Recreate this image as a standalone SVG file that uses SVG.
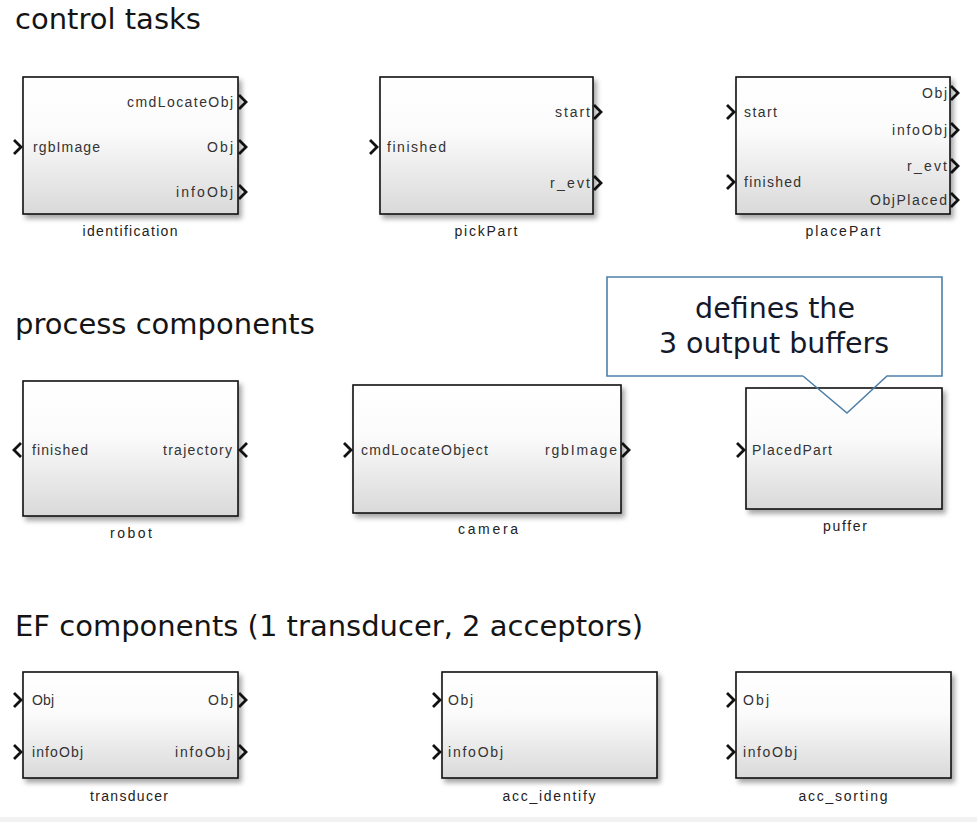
<svg xmlns="http://www.w3.org/2000/svg" xmlns:xlink="http://www.w3.org/1999/xlink" width="977" height="822" viewBox="0 0 977 822">
<style>
.h{font-family:"DejaVu Sans",sans-serif;font-size:29px;fill:#141414}
.c{font-family:"DejaVu Sans",sans-serif;font-size:28.5px;fill:#14192a;text-anchor:middle}
.blk{fill:url(#g);stroke:#111;stroke-width:1.6;filter:url(#sh)}
.p{font-family:"Liberation Sans",Arial,sans-serif;font-size:14px;fill:#333}
.r{text-anchor:end}
.n{font-family:"Liberation Sans",Arial,sans-serif;font-size:14px;fill:#222;text-anchor:middle}
.pin{fill:none;stroke:#111;stroke-width:2.8}
</style>
<defs>
<linearGradient id="g" x1="0" y1="0" x2="0" y2="1">
<stop offset="0" stop-color="#ffffff"/>
<stop offset="0.4" stop-color="#fbfbfb"/>
<stop offset="1" stop-color="#d9d9d9"/>
</linearGradient>
<filter id="sh" x="-10%" y="-10%" width="125%" height="130%">
<feDropShadow dx="3" dy="4" stdDeviation="2.5" flood-color="#000" flood-opacity="0.35"/>
</filter>
<path id="pi" class="pin" d="M0,-7 L7,0 L0,7"/>
<path id="pl" class="pin" d="M7,-7 L0,0 L7,7"/>
</defs>
<rect width="977" height="822" fill="#fff"/>
<rect x="0" y="817" width="977" height="5" fill="#f2f2f2"/>

<text class="h" x="15" y="29">control tasks</text>
<text class="h" x="15" y="334">process components</text>
<text class="h" x="15" y="636">EF components (1 transducer, 2 acceptors)</text>

<g id="connectors"></g>

<g id="identification">
<rect class="blk" x="23" y="77" width="215" height="137"/>
<use href="#pi" x="14" y="147"/>
<use href="#pi" x="239" y="102"/>
<use href="#pi" x="239" y="147"/>
<use href="#pi" x="239" y="192"/>
<text class="p" x="33" y="152" textLength="67" lengthAdjust="spacing">rgbImage</text>
<text class="p r" x="233" y="107" textLength="106" lengthAdjust="spacing">cmdLocateObj</text>
<text class="p r" x="233" y="152" textLength="26" lengthAdjust="spacing">Obj</text>
<text class="p r" x="233" y="197" textLength="57" lengthAdjust="spacing">infoObj</text>
<text class="n" x="130" y="236" textLength="95" lengthAdjust="spacing">identification</text>
</g>

<g id="pickPart">
<rect class="blk" x="380" y="77" width="213" height="137"/>
<use href="#pi" x="370" y="147"/>
<use href="#pi" x="594" y="112"/>
<use href="#pi" x="594" y="183"/>
<text class="p" x="387" y="152" textLength="59" lengthAdjust="spacing">finished</text>
<text class="p r" x="590" y="117" textLength="35" lengthAdjust="spacing">start</text>
<text class="p r" x="590" y="188" textLength="40" lengthAdjust="spacing">r_evt</text>
<text class="n" x="486" y="236" textLength="63" lengthAdjust="spacing">pickPart</text>
</g>

<g id="placePart">
<rect class="blk" x="736" y="77" width="214" height="137"/>
<use href="#pi" x="727" y="112"/>
<use href="#pi" x="727" y="182"/>
<use href="#pi" x="951" y="93"/>
<use href="#pi" x="951" y="130"/>
<use href="#pi" x="951" y="166"/>
<use href="#pi" x="951" y="200"/>
<text class="p" x="744" y="117" textLength="33" lengthAdjust="spacing">start</text>
<text class="p" x="744" y="187" textLength="57" lengthAdjust="spacing">finished</text>
<text class="p r" x="947" y="98" textLength="25" lengthAdjust="spacing">Obj</text>
<text class="p r" x="947" y="135" textLength="55" lengthAdjust="spacing">infoObj</text>
<text class="p r" x="947" y="171" textLength="40" lengthAdjust="spacing">r_evt</text>
<text class="p r" x="947" y="205" textLength="77" lengthAdjust="spacing">ObjPlaced</text>
<text class="n" x="843" y="236" textLength="75" lengthAdjust="spacing">placePart</text>
</g>

<g id="robot">
<rect class="blk" x="23" y="381" width="215" height="135"/>
<use href="#pl" x="14" y="450"/>
<use href="#pl" x="240" y="450"/>
<text class="p" x="32" y="455" textLength="56" lengthAdjust="spacing">finished</text>
<text class="p r" x="232" y="455" textLength="69" lengthAdjust="spacing">trajectory</text>
<text class="n" x="131" y="538" textLength="42" lengthAdjust="spacing">robot</text>
</g>

<g id="camera">
<rect class="blk" x="353" y="385" width="268" height="128"/>
<use href="#pi" x="344" y="450"/>
<use href="#pi" x="622" y="450"/>
<text class="p" x="361" y="455" textLength="127" lengthAdjust="spacing">cmdLocateObject</text>
<text class="p r" x="617" y="455" textLength="72" lengthAdjust="spacing">rgbImage</text>
<text class="n" x="488" y="534" textLength="60" lengthAdjust="spacing">camera</text>
</g>

<g id="puffer">
<rect class="blk" x="746" y="388" width="196" height="121"/>
<use href="#pi" x="737" y="450"/>
<text class="p" x="752" y="455" textLength="80" lengthAdjust="spacing">PlacedPart</text>
<text class="n" x="845" y="531" textLength="44" lengthAdjust="spacing">puffer</text>
</g>

<g id="callout">
<rect x="607" y="277" width="335" height="99" fill="#fff"/>
<path d="M803,376 H607 V277 H942 V376 H887 L847,413 L803,376" fill="none" stroke="#4f7fa8" stroke-width="1.6"/>
<text class="c" x="775" y="318">defines the</text>
<text class="c" x="774" y="353">3 output buffers</text>
</g>

<g id="transducer">
<rect class="blk" x="23" y="672" width="215" height="106"/>
<use href="#pi" x="14" y="700"/>
<use href="#pi" x="14" y="752"/>
<use href="#pi" x="239" y="700"/>
<use href="#pi" x="239" y="752"/>
<text class="p" x="32" y="705" textLength="22" lengthAdjust="spacing">Obj</text>
<text class="p" x="32" y="757" textLength="51" lengthAdjust="spacing">infoObj</text>
<text class="p r" x="233" y="705" textLength="25" lengthAdjust="spacing">Obj</text>
<text class="p r" x="230" y="757" textLength="55" lengthAdjust="spacing">infoObj</text>
<text class="n" x="129" y="801" textLength="78" lengthAdjust="spacing">transducer</text>
</g>

<g id="acc_identify">
<rect class="blk" x="442" y="672" width="215" height="106"/>
<use href="#pi" x="433" y="700"/>
<use href="#pi" x="433" y="752"/>
<text class="p" x="448" y="705" textLength="25" lengthAdjust="spacing">Obj</text>
<text class="p" x="448" y="757" textLength="55" lengthAdjust="spacing">infoObj</text>
<text class="n" x="549" y="801" textLength="93" lengthAdjust="spacing">acc_identify</text>
</g>

<g id="acc_sorting">
<rect class="blk" x="736" y="672" width="215" height="106"/>
<use href="#pi" x="727" y="700"/>
<use href="#pi" x="727" y="752"/>
<text class="p" x="743" y="705" textLength="26" lengthAdjust="spacing">Obj</text>
<text class="p" x="743" y="757" textLength="54" lengthAdjust="spacing">infoObj</text>
<text class="n" x="843" y="801" textLength="89" lengthAdjust="spacing">acc_sorting</text>
</g>
</svg>
